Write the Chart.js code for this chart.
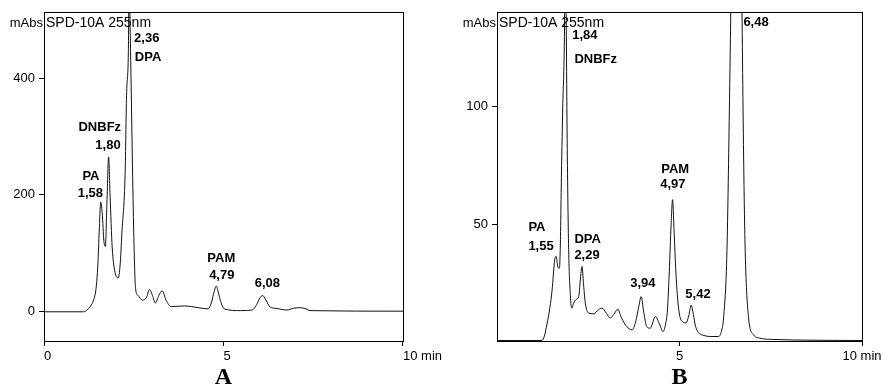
<!DOCTYPE html>
<html>
<head>
<meta charset="utf-8">
<script src="https://cdn.jsdelivr.net/npm/chart.js@4.4.1/dist/chart.umd.min.js"></script>
<style>
    html, body { margin: 0; padding: 0; background: #fff; }
    .panel { position: absolute; top: 0; height: 387px; }
    #wrapA { left: 0; width: 445px; }
    #wrapB { left: 445px; width: 450px; }
</style>
</head>
<body>
<div class="panel" id="wrapA"><canvas id="chartA" width="445" height="387"></canvas></div>
<div class="panel" id="wrapB"><canvas id="chartB" width="450" height="387"></canvas></div>
<script>
// =====================================================
// DATA
// =====================================================
const timeA = [0, 1.10, 1.20, 1.30, 1.38, 1.45, 1.50, 1.54, 1.58, 1.62,
    1.67, 1.71, 1.75, 1.80, 1.84, 1.90, 1.97, 2.07, 2.12, 2.17,
    2.26, 2.30, 2.35, 2.37, 2.41, 2.46, 2.50, 2.55, 2.62, 2.74,
    2.85, 2.94, 3.02, 3.10, 3.20, 3.29, 3.40, 3.54, 3.92, 4.30,
    4.57, 4.66, 4.72, 4.80, 4.86, 4.92, 5.02, 5.48, 5.80, 5.92,
    6.02, 6.09, 6.18, 6.30, 6.45, 6.76, 6.95, 7.14, 7.30, 7.41, 10];
const absA = [0, 0, 3, 10, 20, 40, 80, 140, 188, 170,
    120, 112, 180, 265, 200, 110, 70, 58, 80, 135,
    237, 370, 445, 560, 450, 265, 135, 40, 28, 20,
    24, 38, 28, 15, 28, 36, 20, 9, 10, 7,
    5, 15, 30, 44, 32, 18, 5, 2, 3, 12,
    24, 28, 20, 8, 6, 3, 6, 7, 5, 2, 1];

const timeB = [0, 1.23, 1.30, 1.37, 1.45, 1.51, 1.58, 1.62, 1.67, 1.71,
    1.74, 1.76, 1.80, 1.85, 1.87, 1.90, 1.92, 1.96, 2.01, 2.05,
    2.10, 2.18, 2.24, 2.29, 2.33, 2.37, 2.42, 2.51, 2.65, 2.78,
    2.88, 3.00, 3.10, 3.20, 3.31, 3.40, 3.50, 3.62, 3.70, 3.80,
    3.88, 3.95, 4.02, 4.10, 4.20, 4.34, 4.45, 4.55, 4.62, 4.67,
    4.72, 4.77, 4.81, 4.85, 4.90, 4.98, 5.08, 5.18, 5.26, 5.32,
    5.38, 5.44, 5.55, 5.65, 5.85, 6.07, 6.15, 6.21, 6.30, 6.37,
    6.42, 6.50, 6.62, 6.70, 6.76, 6.80, 6.89, 7.03, 7.20, 7.49, 10];
const absB = [1, 1, 3, 8, 15, 22.5, 35, 36.6, 32, 31.6,
    45, 66, 99, 134, 180, 130, 90, 42, 20, 14.7,
    16.8, 18.5, 19.6, 28, 32.3, 25, 16.8, 12.6, 12.3, 14,
    14.7, 12.5, 10.5, 12, 14.3, 11, 8, 6, 5.5, 9,
    15, 19.6, 13, 7, 6.2, 11.2, 8, 4.8, 8, 14,
    30, 50, 60.6, 48, 30, 14, 9, 8.5, 12, 16,
    12, 7, 4, 3.2, 2.7, 2.7, 5, 11, 39, 103,
    160, 300, 300, 160, 75, 39, 11, 3.4, 2, 1.5, 1];

const xTicksA = [0, 5, 10];
const xTicksB = [5, 10];
const yTicksA = [0, 200, 400];
const yTicksB = [50, 100];

// peak annotations: text + anchor in axis units (min, mAbs)
const peaksA = [
    { text: '2,36', t: 2.51, v: 467 }, { text: 'DPA', t: 2.53, v: 436 },
    { text: 'DNBFz', t: 0.96, v: 315 }, { text: '1,80', t: 1.43, v: 284 },
    { text: 'PA', t: 1.07, v: 231 }, { text: '1,58', t: 0.94, v: 202 },
    { text: 'PAM', t: 4.55, v: 92 }, { text: '4,79', t: 4.60, v: 62 },
    { text: '6,08', t: 5.87, v: 48 }
];
const peaksB = [
    { text: '1,84', t: 2.06, v: 130 }, { text: 'DNBFz', t: 2.12, v: 120 },
    { text: '6,48', t: 6.75, v: 135.6 },
    { text: 'PAM', t: 4.50, v: 73.3 }, { text: '4,97', t: 4.47, v: 67 },
    { text: 'PA', t: 0.86, v: 48.7 }, { text: '1,55', t: 0.86, v: 41 },
    { text: 'DPA', t: 2.12, v: 43.6 }, { text: '2,29', t: 2.12, v: 36.9 },
    { text: '3,94', t: 3.65, v: 25 }, { text: '5,42', t: 5.16, v: 20.3 }
];

const SANS = '"Liberation Sans", Arial, sans-serif';

// =====================================================
// HELPER: frame, header text, peak labels, panel letter
// =====================================================
function overlayPlugin(panel, peaks) {
    return {
        id: 'overlay' + panel,
        afterDraw(chart) {
            const { ctx, chartArea: a, scales } = chart;
            ctx.save();
            ctx.strokeStyle = '#000';
            ctx.lineWidth = 1;
            ctx.strokeRect(Math.round(a.left) + 0.5, Math.round(a.top) + 0.5,
                Math.round(a.right - a.left), Math.round(a.bottom - a.top));

            ctx.fillStyle = '#000';
            ctx.textBaseline = 'middle';
            ctx.font = '13px ' + SANS;
            ctx.textAlign = 'right';
            ctx.fillText('mAbs', a.left - 1, a.top + 11);
            ctx.textAlign = 'left';
            ctx.font = '14px ' + SANS;
            ctx.fillText('SPD-10A 255nm', a.left + 2, a.top + 11);

            ctx.font = 'bold 13px ' + SANS;
            peaks.forEach(p => {
                ctx.fillText(p.text, scales.x.getPixelForValue(p.t), scales.y.getPixelForValue(p.v));
            });

            ctx.font = 'bold 24px "Liberation Serif", "Times New Roman", serif';
            ctx.textAlign = 'center';
            ctx.fillText(panel, (a.left + a.right) / 2, a.bottom + 37);
            ctx.restore();
        }
    };
}

function buildChart(canvasId, opt) {
    return new Chart(document.getElementById(canvasId), {
        type: 'line',
        data: {
            datasets: [{
                data: opt.time.map((t, i) => ({ x: t, y: opt.abs[i] })),
                borderColor: '#111',
                borderWidth: 1,
                pointRadius: 0,
                cubicInterpolationMode: 'monotone',
                fill: false
            }]
        },
        options: {
            responsive: false,
            animation: false,
            events: [],
            layout: { padding: { top: 12, right: opt.padRight, left: 0, bottom: 0 } },
            plugins: { legend: { display: false }, tooltip: { enabled: false } },
            scales: {
                x: {
                    type: 'linear',
                    min: 0, max: 10,
                    afterBuildTicks: s => { s.ticks = opt.xTicks.map(v => ({ value: v })); },
                    afterFit: s => { s.height = 46; },
                    grid: { drawOnChartArea: false, drawTicks: true, tickLength: 5, color: '#000' },
                    border: { color: '#000', width: 1 },
                    ticks: {
                        color: '#000', padding: 3, align: opt.xAlign, maxRotation: 0,
                        font: { family: SANS, size: 13 },
                        callback: v => v === 10 ? '10 min' : String(v)
                    }
                },
                y: {
                    min: opt.yMin, max: opt.yMax,
                    afterBuildTicks: s => { s.ticks = opt.yTicks.map(v => ({ value: v })); },
                    afterFit: s => { s.width = opt.yWidth; },
                    grid: { drawOnChartArea: false, drawTicks: true, tickLength: 5, color: '#000' },
                    border: { color: '#000', width: 1 },
                    ticks: { color: '#000', padding: 4, font: { family: SANS, size: 13 } }
                }
            }
        },
        plugins: [overlayPlugin(opt.panel, opt.peaks)]
    });
}

// =====================================================
// INITIALIZATION
// =====================================================
buildChart('chartA', {
    panel: 'A', time: timeA, abs: absA, peaks: peaksA,
    xTicks: xTicksA, yTicks: yTicksA, yMin: -50, yMax: 513,
    yWidth: 44, padRight: 38, xAlign: 'start'
});
buildChart('chartB', {
    panel: 'B', time: timeB, abs: absB, peaks: peaksB,
    xTicks: xTicksB, yTicks: yTicksB, yMin: 0.8, yMax: 140,
    yWidth: 52, padRight: 33, xAlign: 'center'
});
</script>
</body>
</html>
